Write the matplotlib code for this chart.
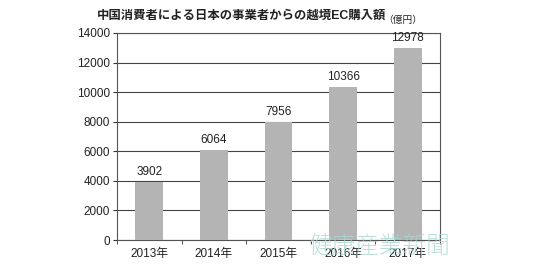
import matplotlib
matplotlib.use('Agg')
from matplotlib import pyplot
import numpy

pyplot.rcParams['font.family'] = ['Liberation Sans', 'Noto Sans CJK JP', 'DejaVu Sans']

years = ['2013年', '2014年', '2015年', '2016年', '2017年']
amounts = [3902, 6064, 7956, 10366, 12978]
yTicks = [0, 2000, 4000, 6000, 8000, 10000, 12000, 14000]

figure = pyplot.figure(figsize=(5.5, 2.7), dpi=100)
axes = figure.add_axes([0.2127, 0.111, 0.5873, 0.767])

positions = numpy.arange(len(years))
bars = axes.bar(positions, amounts, width=0.43, color='#b4b4b4', zorder=3)
for bar, value in zip(bars, amounts):
    axes.annotate(str(value), (bar.get_x() + bar.get_width()/2, value),
                  xytext=(0, 3), textcoords='offset points',
                  ha='center', va='bottom', fontsize=8.5, color='#222222')

axes.set_xlim(-0.5, len(years) - 0.5)
axes.set_ylim(0, 14000)
axes.set_yticks(yTicks)
axes.set_yticklabels([str(t) for t in yTicks], fontsize=8.5, color='#222222')
axes.set_xticks(positions)
axes.set_xticklabels(years, fontsize=8.5, color='#222222')
axes.tick_params(axis='x', which='major', length=0, pad=6)
axes.set_xticks(numpy.arange(-0.5, len(years)), minor=True)
axes.tick_params(axis='x', which='minor', length=3, direction='out', color='#333333')
axes.tick_params(axis='y', length=3, direction='out', color='#333333', pad=2)
axes.yaxis.grid(True, color='#444444', linewidth=0.8, zorder=1)
for spine in axes.spines.values():
    spine.set_color('#555555')
    spine.set_linewidth(0.8)

figure.text(0.44, 0.94, '中国消費者による日本の事業者からの越境EC購入額',
            ha='center', va='center', fontsize=8.9, fontweight='bold', color='#222222')
figure.text(0.697, 0.925, '（億円）', ha='left', va='center', fontsize=7, color='#222222')
figure.text(0.69, 0.085, '健康産業新聞', ha='center', va='center', fontsize=17,
            color='#a9d9d2', alpha=0.8, family=['Noto Sans CJK JP'], fontweight='light')

figure.savefig('out.png', dpi=100)
